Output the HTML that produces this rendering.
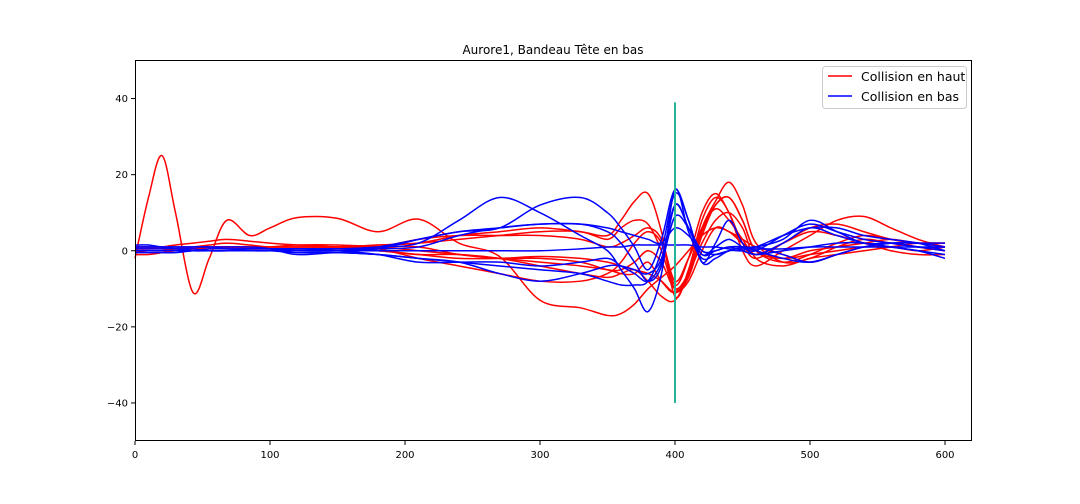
<!DOCTYPE html>
<html><head><meta charset="utf-8">
<style>
html,body{margin:0;padding:0;background:#fff;}
svg{display:block;font-family:"DejaVu Sans","Liberation Sans",sans-serif;}
</style></head>
<body>
<svg id="chart" width="1080" height="504" viewBox="0 0 1080 504">
<text x="553" y="54" font-size="12" text-anchor="middle">Aurore1, Bandeau Tête en bas</text>
<g id="plot"></g>
<g id="axes">
<line x1="135" y1="60.5" x2="972" y2="60.5" stroke="#000" stroke-width="1"/>
<line x1="971.5" y1="60" x2="971.5" y2="441" stroke="#000" stroke-width="1"/>
<line x1="135.5" y1="60" x2="135.5" y2="441" stroke="#000" stroke-width="1"/>
<line x1="135" y1="440.5" x2="972" y2="440.5" stroke="#000" stroke-width="1"/>
</g>
<g>
<rect x="822.5" y="66.5" width="144" height="42" rx="3" fill="#fff" fill-opacity="0.8" stroke="#ccc"/>
<line x1="828" y1="76" x2="852" y2="76" stroke="#ff0000" stroke-width="1.5"/>
<text x="861" y="81" font-size="12.5">Collision en haut</text>
<line x1="828" y1="96" x2="852" y2="96" stroke="#0000ff" stroke-width="1.5"/>
<text x="861" y="101" font-size="12.5">Collision en bas</text>
</g>
</svg>
<script>
const xs=[0,10,20,30,43,55,68,85,100,120,150,180,210,240,270,300,330,350,360,370,380,390,400,410,420,430,440,450,460,480,500,520,540,560,580,600];
const red1=[-2,14,25,10,-11,-2,8,4,6,8.7,8.5,5,8.3,2,-1.5,-13,-15,-17,-16.5,-14,-10,-7,-4,0,4,6,5,2,0,-2,-1,0,1,1,0,1];
const red2=[1,1,0.5,0.5,1,1.5,2,1.5,1,1,1,1.5,2,4,5,6,5,4,8,13,15,5,-12,-5,8,14,10,0,-4,0,4,8,9,6,3,1];
const red3=[-1,-1,-0.5,0,0.5,1,1,0.5,0.5,0.5,0.5,0,-1,-1,-2,-4,-6,-7,-6,-5,-8,-12,-13,-6,5,12,14,8,0,-3,-1,2,4,3,2,1];
const red4=[0.5,0.5,1,1.5,2,2.5,3,2.5,2,1.5,1,0.5,-2,-4,-6,-8,-8,-6,-3,2,5,2,-9,-2,10,15,10,2,-2,2,6,7,5,3,2,2];
const red5=[0,0,0,0.5,0.5,1,1,1,1,1.5,1.5,1,0,-1,-2,-3,-4,-5,-6,-6,-3,-8,-11,-6,6,13,18,12,2,-3,-2,1,3,2,1,0];
const red6=[1,1,1,1,1,1,1,1,1,1,1,1.5,2,3,4,5,5,3,6,8,7,0,-10,-7,4,12,14,8,0,-2,0,1,2,3,2,2];
const red7=[-0.5,0,0,0.5,0.5,1,1,1,1,1,1,1,1,-1,-2,-2,-3,-5,-5,-3,0,-3,-10,-6,2,8,10,6,-2,-4,-2,-1,0,1,2,2];
const red8=[0.5,0.5,0.5,0.5,0.5,0.5,0.5,0.5,0.5,0.5,0.5,1,3,4,4,4,3,1,2,4,6,3,-8,-2,6,11,8,3,-1,2,5,4,2,0,-1,-1];
const red9=[0,0,0,0,0,0,0,0,0,0,0,0,-1,-2,-2,-1.5,-2,-3,-4,-5,-6,-8,-11,-8,0,6,5,3,1,-1,-3,-1,1,2,1,0];
const blue1=[1,1,1,0.5,0.5,0,0,0,0,0.5,0.5,1,2,8,14,10,4,0,-5,-10,-16,-6,16,5,-2,-1,0,1,1,3,8,5,2,2,1,0];
const blue2=[1.5,1.5,1,1,1,1,0.5,0.5,0.5,0,0,0.5,3,5,6,12,14,10,6,1,-5,3,16,8,-3,2,8,2,-1,2,6,4,2,1,0,-1];
const blue3=[0,0,0,0,0,0.5,0.5,0.5,0.5,0.5,0.5,0.5,1,4,6,7,7,5,2,-3,-8,-4,12,6,-1,1,3,1,0,4,7,5,3,2,1,1];
const blue4=[0.5,0.5,0.5,0.5,0,0,0,0,0,-0.5,-0.5,-1,-2,-3,-4,-5,-6,-8,-9,-9,-8,0,15,8,-3,-2,0,0,1,-1,-3,-1,1,2,2,2];
const blue5=[-0.5,-0.5,-0.5,-0.5,0,0,0,0.5,0.5,0.5,0,-1,-3,-3,-3,-4,-3,-2,-4,-6,-8,-3,9,6,0,0,1,0,-1,0,1,2,2,1,0,-2];
const blue6=[0,0,0,0,0,0,0,0,0,0,0,0,0,0,0,0,0.5,1,1,1.5,1.5,1.5,1.5,1.5,1,1,0.5,0.5,0.5,0.5,1,1,1,1,1,1];
const blue7=[1,1,1,1,1,1,1,1,0.5,-1,-0.5,-1,-2,-3,-6,-8,-6,-4,-4,-5,-6,-2,12,6,-1,0,1,1,0,-2,-3,-1,1,2,2,1];
const blue8=[0,0,0,0,0,0,0,0,0,0,0,1,3,5,6,7,7,6,5,4,3,2,6,4,0,-1,0,1,1,4,6,6,4,3,2,0];
const redSeries=[red1,red2,red3,red4,red5,red6,red7,red8,red9];
const blueSeries=[blue1,blue2,blue3,blue4,blue5,blue6,blue7,blue8];
const xTicks=[0,100,200,300,400,500,600];
const yTicks=[-40,-20,0,20,40];
const marker={x:400,y0:-40,y1:39};

const L=135,R=972,T=60.5,B=441;
const xMin=0,xMax=620,yMin=-50,yMax=50;
const sx=v=>L+(v-xMin)/(xMax-xMin)*(R-L);
const sy=v=>B-(v-yMin)/(yMax-yMin)*(B-T);
const NS="http://www.w3.org/2000/svg";
const plot=document.getElementById('plot');
const axes=document.getElementById('axes');
function pathFor(ys){
  const p=xs.map((x,i)=>[sx(x),sy(ys[i])]);
  let d=`M${p[0][0]},${p[0][1]}`;
  for(let i=0;i<p.length-1;i++){
    const p0=p[Math.max(0,i-1)],p1=p[i],p2=p[i+1],p3=p[Math.min(p.length-1,i+2)];
    const c1=[p1[0]+(p2[0]-p0[0])/6,p1[1]+(p2[1]-p0[1])/6];
    const c2=[p2[0]-(p3[0]-p1[0])/6,p2[1]-(p3[1]-p1[1])/6];
    d+=`C${c1[0]},${c1[1]} ${c2[0]},${c2[1]} ${p2[0]},${p2[1]}`;
  }
  return d;
}
redSeries.forEach((ys,i)=>{
  const e=document.createElementNS(NS,'path');
  e.setAttribute('d',pathFor(ys));e.setAttribute('fill','none');
  e.setAttribute('stroke','#ff0000');e.setAttribute('stroke-width','1.5');
  
  
  plot.appendChild(e);
});
blueSeries.forEach((ys,i)=>{
  const e=document.createElementNS(NS,'path');
  e.setAttribute('d',pathFor(ys));e.setAttribute('fill','none');
  e.setAttribute('stroke','#0000ff');e.setAttribute('stroke-width','1.5');
  
  
  plot.appendChild(e);
});
const m=document.createElementNS(NS,'line');
m.setAttribute('x1',sx(marker.x));m.setAttribute('x2',sx(marker.x));
m.setAttribute('y1',sy(marker.y0));m.setAttribute('y2',sy(marker.y1));
m.setAttribute('stroke','#26b59a');m.setAttribute('stroke-width','2');


plot.appendChild(m);
xTicks.forEach(v=>{
  const x=sx(v);
  const t=document.createElementNS(NS,'line');
  t.setAttribute('x1',x);t.setAttribute('x2',x);t.setAttribute('y1',B);t.setAttribute('y2',B+4);t.setAttribute('stroke','#000');
  
  
  axes.appendChild(t);
  const l=document.createElementNS(NS,'text');
  l.setAttribute('x',x);l.setAttribute('y',B+17);l.setAttribute('font-size','10');l.setAttribute('text-anchor','middle');
  l.textContent=v;
  
  
  axes.appendChild(l);
});
yTicks.forEach(v=>{
  const y=sy(v);
  const t=document.createElementNS(NS,'line');
  t.setAttribute('x1',L-4);t.setAttribute('x2',L);t.setAttribute('y1',y);t.setAttribute('y2',y);t.setAttribute('stroke','#000');
  
  
  axes.appendChild(t);
  const l=document.createElementNS(NS,'text');
  l.setAttribute('x',L-7);l.setAttribute('y',y+3.5);l.setAttribute('font-size','10');l.setAttribute('text-anchor','end');
  l.textContent=v<0?'\u2212'+(-v):v;
  
  
  axes.appendChild(l);
});
</script>
</body></html>
